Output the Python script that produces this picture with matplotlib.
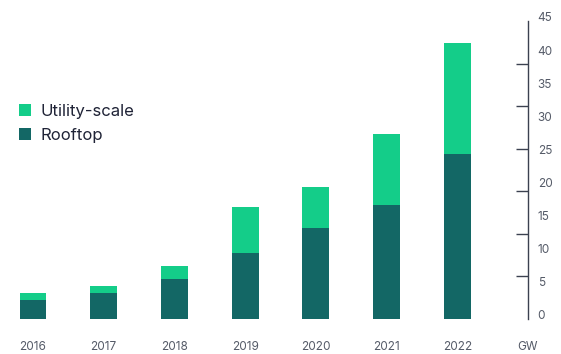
import matplotlib.pyplot as plt
import matplotlib.transforms as mtransforms
import numpy as np

years = ['2016', '2017', '2018', '2019', '2020', '2021', '2022']
rooftop = [2.8, 3.9, 6.0, 10.0, 13.7, 17.2, 24.9]
utility = [1.1, 1.1, 2.0, 6.9, 6.3, 10.8, 16.8]
y_labels = [0, 5, 10, 15, 20, 25, 30, 35, 40, 45]

ROOF_COLOR = '#136765'
UTIL_COLOR = '#14cd89'
TEXT_COLOR = '#555b68'
AXIS_COLOR = '#3b4150'

plt.rcParams['font.family'] = ['Inter', 'DejaVu Sans']

fig = plt.figure(figsize=(5.61, 3.54), dpi=100)
ax = fig.add_axes([0.0, 0.0989, 528 / 561, 0.8418])

x = np.arange(len(years))
ax.bar(x, rooftop, width=0.38, color=ROOF_COLOR, label='Rooftop')
ax.bar(x, utility, width=0.38, bottom=rooftop, color=UTIL_COLOR, label='Utility-scale')

ax.set_xlim(-0.467, len(years))
ax.set_ylim(0, 45)

for side in ['top', 'left', 'bottom']:
    ax.spines[side].set_visible(False)
ax.spines['right'].set_color(AXIS_COLOR)
ax.spines['right'].set_linewidth(1)

# value labels every 5 GW, tick marks on their own grid
ax.yaxis.tick_right()
ax.set_yticks(y_labels)
ax.set_yticks(np.linspace(0, 45, 8), minor=True)
ax.tick_params(axis='y', which='major', length=0, pad=7, labelsize=8.5,
               labelcolor=TEXT_COLOR)
ax.tick_params(axis='y', which='minor', length=8.6, width=1, direction='in',
               color=AXIS_COLOR)
shift = mtransforms.ScaledTranslation(0, 4 / 100, fig.dpi_scale_trans)
for lbl in ax.get_yticklabels():
    lbl.set_transform(lbl.get_transform() + shift)

ax.set_xticks(list(x) + [len(years)])
ax.set_xticklabels(years + ['GW'])
ax.tick_params(axis='x', length=0, pad=16, labelsize=8.5, labelcolor=TEXT_COLOR)

handles, labels = ax.get_legend_handles_labels()
ax.legend(handles[::-1], labels[::-1], loc='upper left',
          bbox_to_anchor=(12 / 561, 1 - 97 / 354), bbox_transform=fig.transFigure,
          frameon=False, fontsize=12, handlelength=0.75, handleheight=0.75,
          handletextpad=0.55, labelspacing=0.56, borderaxespad=0,
          labelcolor='#1f2336')

fig.savefig('out.png', dpi=100)
